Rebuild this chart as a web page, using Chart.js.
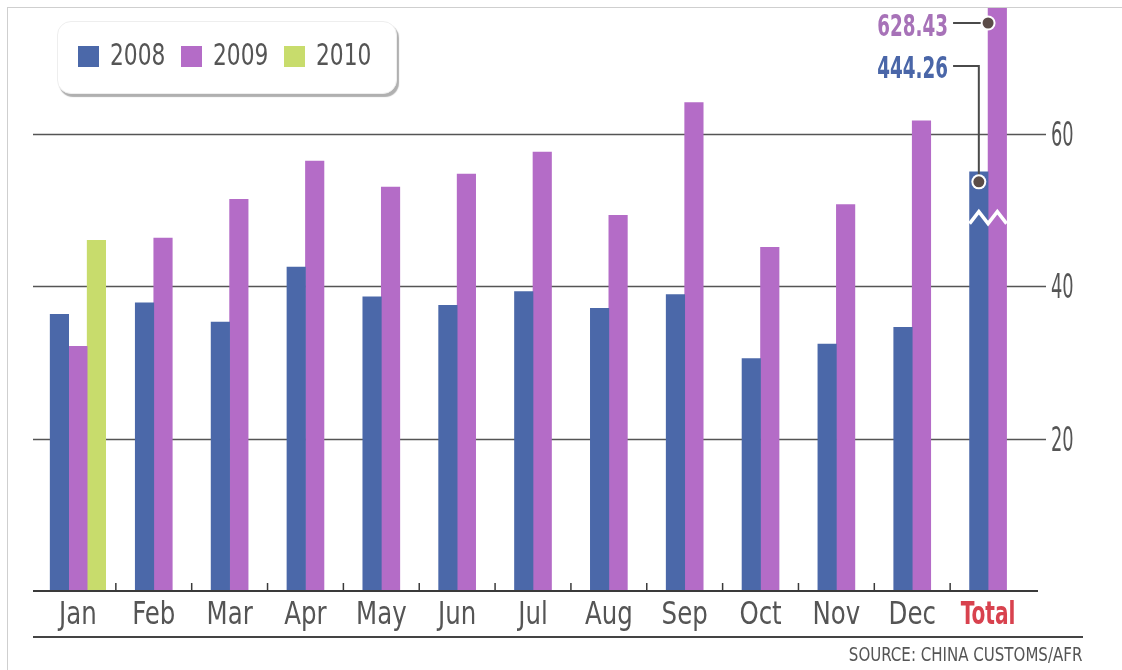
<!DOCTYPE html>
<html>
<head>
<meta charset="utf-8">
<script src="https://cdn.jsdelivr.net/npm/chart.js@4/dist/chart.umd.min.js"></script>
<style>
  body { margin: 0; background: #fff; }
  #wrap { position: relative; width: 1122px; height: 670px; overflow: hidden; }
  #frame { position: absolute; left: 7px; top: 7px; right: -5px; bottom: -5px; border-top: 1px solid #cfcfcf; border-left: 1px solid #cfcfcf; }
  #legend { position: absolute; left: 57px; top: 21px; width: 340px; height: 73px; box-sizing: border-box;
            background: #fff; border: 1px solid #eee; border-radius: 14px; box-shadow: 2px 3px 1px #b0b0b0; color: #555;
            font: 31px "DejaVu Sans Condensed", "Liberation Sans Narrow", sans-serif; }
  #legend .item { position: absolute; top: 0; height: 71px; }
  #legend .sw { position: absolute; left: 0; top: 24px; width: 21px; height: 21px; }
  #legend .txt { position: absolute; left: 32px; top: 14px; white-space: nowrap; transform: scaleX(0.78); transform-origin: left center; }
  #rule { position: absolute; left: 33px; top: 636px; width: 1050px; height: 2px; background: #444; }
  #source { position: absolute; right: 40px; top: 643px; color: #555; white-space: nowrap;
            font: 19px "DejaVu Sans Condensed", "Liberation Sans Narrow", sans-serif;
            transform: scaleX(0.88); transform-origin: right center; }
  canvas { position: absolute; left: 0; top: 0; }
</style>
</head>
<body>
<div id="wrap">
  <div id="frame"></div>
  <canvas id="chinaChart" width="1122" height="670"></canvas>
  <div id="legend"></div>
  <div id="rule"></div>
  <div id="source">SOURCE: CHINA CUSTOMS/AFR</div>
</div>
<script>
var months = ['Jan', 'Feb', 'Mar', 'Apr', 'May', 'Jun', 'Jul', 'Aug', 'Sep', 'Oct', 'Nov', 'Dec', 'Total'];
var v2008 = [36.3, 37.8, 35.3, 42.5, 38.6, 37.5, 39.3, 37.1, 38.9, 30.5, 32.4, 34.6];
var v2009 = [32.1, 46.3, 51.4, 56.4, 53.0, 54.7, 57.6, 49.3, 64.1, 45.1, 50.7, 61.7];
var v2010 = [46.0];
var totals = [444.26, 628.43];     // printed totals for 2008 and 2009
var total2008Drawn = 55;           // 2008 total bar height as drawn on the broken axis
var breakAt = 49;                  // where the zigzag break sits
var yTicks = [20, 40, 60];

var FONT = '"DejaVu Sans Condensed", "Liberation Sans Narrow", sans-serif';
var BLUE = '#4b68a9';
var PURPLE = '#b46cc7';
var GREEN = '#c8dc6c';
var GREY = '#555';

function pad(arr) {
  var out = arr.slice();
  while (out.length < months.length) out.push(null);
  return out;
}

// squeezed text, the original uses a very condensed face
function squeezeText(ctx, str, x, y, align, sx) {
  ctx.save();
  ctx.translate(x, y);
  ctx.scale(sx, 1);
  ctx.textAlign = align;
  ctx.textBaseline = 'alphabetic';
  ctx.fillText(str, 0, 0);
  ctx.restore();
}

var data2008 = v2008.concat([total2008Drawn]);
var data2009 = v2009.concat([totals[1]]);

var extras = {
  id: 'extras',
  beforeDatasetsDraw: function (chart) {
    var ctx = chart.ctx, y = chart.scales.y, area = chart.chartArea;
    ctx.save();
    ctx.strokeStyle = '#555';
    ctx.lineWidth = 1.3;
    yTicks.forEach(function (v) {
      var py = Math.round(y.getPixelForValue(v)) + 0.5;
      ctx.beginPath();
      ctx.moveTo(area.left - 7, py);
      ctx.lineTo(area.right + 20, py);
      ctx.stroke();
    });
    ctx.restore();
  },
  afterDatasetsDraw: function (chart) {
    var ctx = chart.ctx, x = chart.scales.x, y = chart.scales.y, area = chart.chartArea;
    var base = y.getPixelForValue(0);
    ctx.save();
    // baseline
    ctx.strokeStyle = '#3a3a3a';
    ctx.lineWidth = 2;
    ctx.beginPath();
    ctx.moveTo(area.left - 7, base);
    ctx.lineTo(area.right + 12, base);
    ctx.stroke();
    // small ticks between categories
    ctx.lineWidth = 1.5;
    for (var i = 0; i < months.length - 1; i++) {
      var px = (x.getPixelForValue(i) + x.getPixelForValue(i + 1)) / 2;
      ctx.beginPath();
      ctx.moveTo(px, base);
      ctx.lineTo(px, base - 8);
      ctx.stroke();
    }

    // category labels
    months.forEach(function (m, idx) {
      var isTotal = idx === months.length - 1;
      ctx.fillStyle = isTotal ? '#d8424e' : GREY;
      ctx.font = (isTotal ? 'bold ' : '') + '32px ' + FONT;
      squeezeText(ctx, m, x.getPixelForValue(idx), base + 33, 'center', isTotal ? 0.7 : 0.85);
    });

    // value axis labels
    ctx.fillStyle = GREY;
    ctx.font = '33px ' + FONT;
    yTicks.forEach(function (v) {
      squeezeText(ctx, String(v), area.right + 25, y.getPixelForValue(v) + 12, 'left', 0.6);
    });

    var last = months.length - 1;
    var b08 = chart.getDatasetMeta(0).data[last];
    var b09 = chart.getDatasetMeta(1).data[last];

    // zigzag break across the total bars
    var zy = y.getPixelForValue(breakAt);
    var left = b08.x - b08.width / 2, right = b09.x + b09.width / 2;
    var steps = 4, w = (right - left) / steps;
    ctx.strokeStyle = '#fff';
    ctx.lineWidth = 3.5;
    ctx.beginPath();
    for (var k = 0; k <= steps; k++) {
      var zx = left + k * w;
      var yy = k % 2 === 0 ? zy + 6 : zy - 6;
      if (k === 0) ctx.moveTo(zx, yy); else ctx.lineTo(zx, yy);
    }
    ctx.stroke();

    // callouts
    var dot09 = { x: b09.x - b09.width / 2, y: area.top + 15 };
    var dot08 = { x: b08.x, y: b08.y + 10 };
    var lineStart = dot09.x - 35;
    var label08y = area.top + 58;

    ctx.strokeStyle = '#4a4a4a';
    ctx.lineWidth = 2;
    ctx.beginPath();
    ctx.moveTo(lineStart, dot09.y);
    ctx.lineTo(dot09.x, dot09.y);
    ctx.moveTo(lineStart, label08y);
    ctx.lineTo(dot08.x, label08y);
    ctx.lineTo(dot08.x, dot08.y);
    ctx.stroke();

    [dot09, dot08].forEach(function (d) {
      ctx.beginPath();
      ctx.arc(d.x, d.y, 7.5, 0, Math.PI * 2);
      ctx.fillStyle = '#fff';
      ctx.fill();
      ctx.beginPath();
      ctx.arc(d.x, d.y, 5.5, 0, Math.PI * 2);
      ctx.fillStyle = '#5b4c48';
      ctx.fill();
    });

    ctx.font = 'bold 30px ' + FONT;
    ctx.fillStyle = '#a772b8';
    squeezeText(ctx, totals[1].toFixed(2), lineStart - 5, dot09.y + 13, 'right', 0.68);
    ctx.fillStyle = '#4a66a8';
    squeezeText(ctx, totals[0].toFixed(2), lineStart - 5, label08y + 12, 'right', 0.68);
    ctx.restore();
  }
};

var ctx = document.getElementById('chinaChart');
var chart = new Chart(ctx, {
  type: 'bar',
  data: {
    labels: months,
    datasets: [
      { label: '2008', data: pad(data2008), backgroundColor: BLUE },
      { label: '2009', data: pad(data2009), backgroundColor: PURPLE },
      { label: '2010', data: pad(v2010), backgroundColor: GREEN }
    ]
  },
  options: {
    responsive: false,
    animation: false,
    skipNull: true,
    barThickness: 18.5,
    clip: 0,
    layout: { padding: { left: 40, top: 8, right: 0, bottom: 0 } },
    plugins: { legend: { display: false }, tooltip: { enabled: false } },
    scales: {
      x: {
        grid: { display: false, drawTicks: false },
        border: { display: false },
        ticks: { display: false },
        afterFit: function (s) { s.height = 79; }
      },
      y: {
        position: 'right',
        min: 0,
        max: 76.5,
        grid: { display: false, drawTicks: false },
        border: { display: false },
        ticks: { display: false, stepSize: 20 },
        afterFit: function (s) { s.width = 96; }
      }
    }
  },
  plugins: [extras]
});

var legendBox = document.getElementById('legend');
var legendStep = 103;
chart.data.datasets.forEach(function (ds, i) {
  var item = document.createElement('div');
  item.className = 'item';
  item.style.left = (20 + i * legendStep) + 'px';
  var sw = document.createElement('span');
  sw.className = 'sw';
  sw.style.background = ds.backgroundColor;
  var txt = document.createElement('span');
  txt.className = 'txt';
  txt.textContent = ds.label;
  item.appendChild(sw);
  item.appendChild(txt);
  legendBox.appendChild(item);
});
</script>
</body>
</html>
